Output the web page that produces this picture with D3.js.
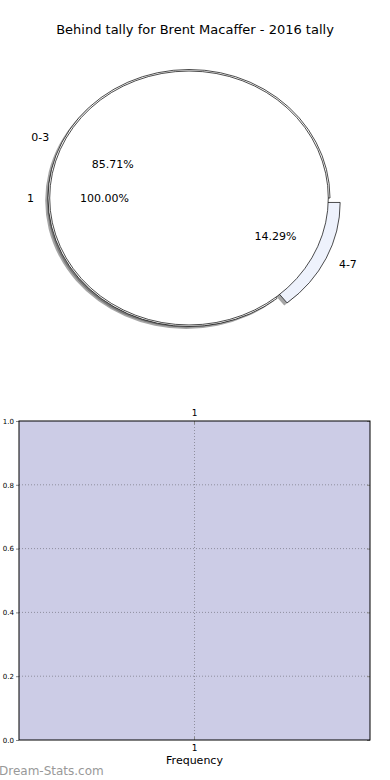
<!DOCTYPE html>
<html>
<head>
<meta charset="utf-8">
<script src="https://cdn.jsdelivr.net/npm/d3@7"></script>
<style>
  body { margin: 0; background: #fff; }
  text { font-family: "DejaVu Sans", sans-serif; }
</style>
</head>
<body>
<div id="wrapper"></div>
<script>
// data
const titleText = "Behind tally for Brent Macaffer - 2016 tally"
const outerLabels = ["0-3", "4-7"]
const outerValues = [6, 1]
const outerColors = ["#ffffff", "#eef2fc"]
const outerExplode = [0, 0.08]
const innerLabels = ["1"]
const innerValues = [1]
const barCategories = ["1"]
const barValues = [0]
const yTicks = [0, 0.2, 0.4, 0.6, 0.8, 1.0]

const width = 390
const height = 780

const svg = d3.select("#wrapper")
    .append("svg")
    .attr("width", width)
    .attr("height", height)

svg.append("text")
    .attr("x", 195)
    .attr("y", 34)
    .attr("text-anchor", "middle")
    .style("font-size", "13px")
    .text(titleText)

// pie
const pieDims = { cx: 189, cy: 198, rx: 141, ry: 128.5 }
const yRatio = pieDims.ry / pieDims.rx
const R = pieDims.rx

const pieGroup = svg.append("g")
    .attr("transform", `translate(${pieDims.cx},${pieDims.cy}) scale(1,${yRatio})`)

const outerPie = d3.pie().sort(null)
    .startAngle(Math.PI / 2 + 2 * Math.PI / 7)
    .endAngle(Math.PI / 2 + 2 * Math.PI / 7 + 2 * Math.PI)
const innerPie = d3.pie().sort(null)
    .startAngle(Math.PI / 2)
    .endAngle(Math.PI / 2 + 2 * Math.PI)

const outerArcs = outerPie(outerValues)
const innerArcs = innerPie(innerValues)

const outerArc = d3.arc().innerRadius(0).outerRadius(R)
const innerArc = d3.arc().innerRadius(0).outerRadius(R * 0.988)

const mid = d => (d.startAngle + d.endAngle) / 2
const explodeShift = (d, i) => {
    const a = mid(d)
    const e = outerExplode[i] * R
    return [Math.sin(a) * e, -Math.cos(a) * e]
}

const shadowDx = -0.02 * R
const shadowDy = 0.02 * R

// shadows first
pieGroup.selectAll("path.outer-shadow")
    .data(outerArcs)
    .join("path")
    .attr("class", "outer-shadow")
    .attr("d", outerArc)
    .attr("transform", (d, i) => {
        const s = explodeShift(d, i)
        return `translate(${s[0] + shadowDx},${s[1] + shadowDy})`
    })
    .attr("fill", "#4d4d4d")
    .attr("fill-opacity", 0.5)

pieGroup.selectAll("path.inner-shadow")
    .data(innerArcs)
    .join("path")
    .attr("class", "inner-shadow")
    .attr("d", innerArc)
    .attr("transform", `translate(${shadowDx},${shadowDy})`)
    .attr("fill", "#4d4d4d")
    .attr("fill-opacity", 0.5)

pieGroup.selectAll("path.outer")
    .data(outerArcs)
    .join("path")
    .attr("class", "outer")
    .attr("d", outerArc)
    .attr("transform", (d, i) => {
        const s = explodeShift(d, i)
        return `translate(${s[0]},${s[1]})`
    })
    .attr("fill", (d, i) => outerColors[i])
    .attr("stroke", "#000")
    .attr("stroke-width", 0.7)
    .attr("vector-effect", "non-scaling-stroke")

pieGroup.selectAll("path.inner")
    .data(innerArcs)
    .join("path")
    .attr("class", "inner")
    .attr("d", innerArc)
    .attr("fill", "#ffffff")
    .attr("stroke", "#000")
    .attr("stroke-width", 0.7)
    .attr("vector-effect", "non-scaling-stroke")

// pie labels
const labelPos = (d, dist, e) => {
    const a = mid(d)
    return [
        pieDims.cx + Math.sin(a) * (dist + e) * pieDims.rx,
        pieDims.cy - Math.cos(a) * (dist + e) * pieDims.ry
    ]
}

const pieLabels = []
outerArcs.forEach((d, i) => {
    pieLabels.push({ pos: labelPos(d, 1.1, outerExplode[i]), text: outerLabels[i], side: true })
    pieLabels.push({ pos: labelPos(d, 0.6, outerExplode[i]), text: d3.format(".2f")(outerValues[i] / d3.sum(outerValues) * 100) + "%", side: false })
})
innerArcs.forEach((d, i) => {
    pieLabels.push({ pos: labelPos(d, 1.1, 0), text: innerLabels[i], side: true })
    pieLabels.push({ pos: labelPos(d, 0.6, 0), text: d3.format(".2f")(innerValues[i] / d3.sum(innerValues) * 100) + "%", side: false })
})

svg.selectAll("text.pie-label")
    .data(pieLabels)
    .join("text")
    .attr("class", "pie-label")
    .attr("x", d => d.pos[0])
    .attr("y", d => d.pos[1])
    .attr("dy", "0.35em")
    .attr("text-anchor", d => d.side ? (d.pos[0] > pieDims.cx ? "start" : "end") : "middle")
    .style("font-size", "11px")
    .text(d => d.text)

// bar chart
const dims = { left: 19, right: 370, top: 421, bottom: 740 }

const xScale = d3.scaleBand()
    .domain(barCategories)
    .range([dims.left, dims.right])
    .padding(0.2)

const yScale = d3.scaleLinear()
    .domain([0, 1])
    .range([dims.bottom, dims.top])

svg.append("rect")
    .attr("x", dims.left)
    .attr("y", dims.top)
    .attr("width", dims.right - dims.left)
    .attr("height", dims.bottom - dims.top)
    .attr("fill", "#cccce6")

// grid
svg.append("g")
    .selectAll("line")
    .data(yTicks.filter(t => t > 0 && t < 1))
    .join("line")
    .attr("x1", dims.left)
    .attr("x2", dims.right)
    .attr("y1", d => yScale(d))
    .attr("y2", d => yScale(d))
    .attr("stroke", "#8f8f9f")
    .attr("stroke-width", 1)
    .attr("stroke-dasharray", "1,2")

svg.append("g")
    .selectAll("line")
    .data(barCategories)
    .join("line")
    .attr("x1", d => xScale(d) + xScale.bandwidth() / 2)
    .attr("x2", d => xScale(d) + xScale.bandwidth() / 2)
    .attr("y1", dims.top)
    .attr("y2", dims.bottom)
    .attr("stroke", "#8f8f9f")
    .attr("stroke-width", 1)
    .attr("stroke-dasharray", "1,2")

// bars (zero height)
svg.append("g")
    .selectAll("rect")
    .data(barValues)
    .join("rect")
    .attr("x", (d, i) => xScale(barCategories[i]))
    .attr("y", d => yScale(d))
    .attr("width", xScale.bandwidth())
    .attr("height", d => dims.bottom - yScale(d))
    .attr("fill", "#7777aa")

// axes
const yAxis = svg.append("g")
    .attr("transform", `translate(${dims.left},0)`)
    .call(d3.axisLeft(yScale).tickValues(yTicks).tickFormat(d3.format(".1f")).tickSize(3).tickPadding(2))
yAxis.select(".domain").remove()
yAxis.selectAll("line").attr("stroke", "#888")
yAxis.selectAll("text").style("font-size", "7px").attr("fill", "#000")

const yAxisRight = svg.append("g")
    .attr("transform", `translate(${dims.right},0)`)
    .call(d3.axisLeft(yScale).tickValues(yTicks).tickFormat("").tickSize(3))
yAxisRight.select(".domain").remove()
yAxisRight.selectAll("line").attr("stroke", "#888")

const xAxisBottom = svg.append("g")
    .attr("transform", `translate(0,${dims.bottom})`)
    .call(d3.axisBottom(xScale).tickSize(-3).tickPadding(5))
xAxisBottom.select(".domain").remove()
xAxisBottom.selectAll("line").attr("stroke", "#888")
xAxisBottom.selectAll("text").style("font-size", "9px")

const xAxisTop = svg.append("g")
    .attr("transform", `translate(0,${dims.top})`)
    .call(d3.axisTop(xScale).tickSize(-3).tickPadding(5))
xAxisTop.select(".domain").remove()
xAxisTop.selectAll("line").attr("stroke", "#888")
xAxisTop.selectAll("text").style("font-size", "9px")

svg.append("rect")
    .attr("x", dims.left)
    .attr("y", dims.top)
    .attr("width", dims.right - dims.left)
    .attr("height", dims.bottom - dims.top)
    .attr("fill", "none")
    .attr("stroke", "#000")
    .attr("stroke-width", 1)

svg.append("text")
    .attr("x", (dims.left + dims.right) / 2)
    .attr("y", 764)
    .attr("text-anchor", "middle")
    .style("font-size", "11px")
    .text("Frequency")

svg.append("text")
    .attr("x", -1)
    .attr("y", 775)
    .style("font-size", "12px")
    .attr("fill", "#999")
    .text("Dream-Stats.com")
</script>
</body>
</html>
